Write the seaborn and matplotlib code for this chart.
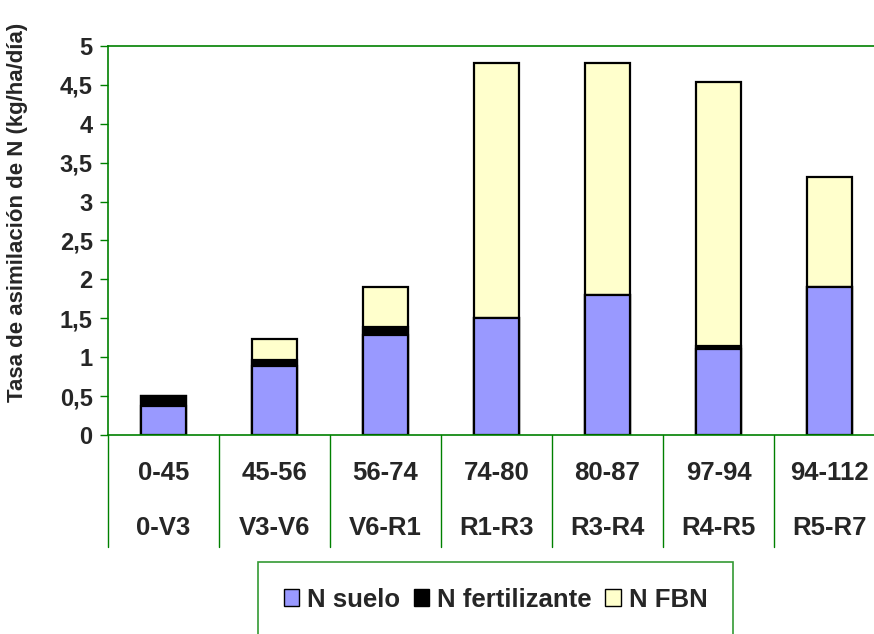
import numpy as np
import pandas as pd
import matplotlib.pyplot as plt
import seaborn as sns
from matplotlib.patches import Patch

# datos
dias = ['0-45', '45-56', '56-74', '74-80', '80-87', '97-94', '94-112']
etapas = ['0-V3', 'V3-V6', 'V6-R1', 'R1-R3', 'R3-R4', 'R4-R5', 'R5-R7']
n_suelo = [0.37, 0.89, 1.29, 1.50, 1.80, 1.11, 1.90]
n_fertilizante = [0.13, 0.07, 0.10, 0.00, 0.00, 0.04, 0.00]
n_fbn = [0.00, 0.27, 0.51, 3.28, 2.98, 3.39, 1.41]

c_suelo = '#9999FF'
c_fert = '#000000'
c_fbn = '#FFFFCC'
verde = '#008000'

df = pd.DataFrame({'periodo': dias, 'suelo': n_suelo,
                   'fert': n_fertilizante, 'fbn': n_fbn})
df['suelo_fert'] = df['suelo'] + df['fert']
df['total'] = df['suelo_fert'] + df['fbn']

sns.set_style('white')
plt.rcParams['font.family'] = ['Liberation Sans', 'DejaVu Sans']
plt.rcParams['font.weight'] = 'bold'

W, H = 874, 634
fig = plt.figure(figsize=(W / 100, H / 100), dpi=100)
ax = fig.add_axes([108 / W, 1 - 435 / H, 777 / W, 389 / H])

# barras apiladas: se dibuja el total y se tapa con los acumulados
kw = dict(width=0.41, edgecolor='black', linewidth=1.6, ax=ax)
sns.barplot(data=df, x='periodo', y='total', color=c_fbn, saturation=1, **kw)
sns.barplot(data=df, x='periodo', y='suelo_fert', color=c_fert, saturation=1, **kw)
sns.barplot(data=df, x='periodo', y='suelo', color=c_suelo, saturation=1, **kw)

ax.set_xlim(-0.5, len(dias) - 0.5)
ax.set_ylim(0, 5)
yt = np.arange(0, 5.01, 0.5)
ax.set_yticks(yt)
ax.set_yticklabels([('%g' % v).replace('.', ',') for v in yt],
                   fontsize=17, fontweight='bold')
ax.tick_params(axis='y', direction='out', length=6, width=1, color=verde,
               pad=5, left=True)
ax.set_xticks([])
ax.set_xlabel('')
for s in ax.spines.values():
    s.set_color(verde)
    s.set_linewidth(1.2)

ax.set_ylabel('Tasa de asimilación de N (kg/ha/día)', fontsize=16,
              fontweight='bold')
ax.yaxis.set_label_coords(-0.103, 0.573)

# etiquetas de dos filas bajo el eje y separadores
tr = ax.get_xaxis_transform()
for i, (d, e) in enumerate(zip(dias, etapas)):
    ax.text(i, -0.097, d, transform=tr, ha='center', va='center',
            fontsize=18.5, fontweight='bold')
    ax.text(i, -0.240, e, transform=tr, ha='center', va='center',
            fontsize=18.5, fontweight='bold')
for k in range(len(dias) + 1):
    ax.plot([k - 0.5, k - 0.5], [0, -0.288], transform=tr, color=verde,
            lw=1, clip_on=False)

handles = [Patch(facecolor=c_suelo, edgecolor='black', label='N suelo'),
           Patch(facecolor=c_fert, edgecolor='black', label='N fertilizante'),
           Patch(facecolor=c_fbn, edgecolor='black', label='N FBN')]
leg = fig.legend(handles=handles, loc='upper left', ncol=3, mode='expand',
                 bbox_to_anchor=(258 / W, 1 - 562 / H, 475 / W, 0.0),
                 prop={'size': 18.5, 'weight': 'bold'}, fancybox=False,
                 frameon=True, borderpad=1.0, handlelength=0.6,
                 handleheight=0.6, handletextpad=0.3, columnspacing=1.0,
                 borderaxespad=0)
leg.get_frame().set_edgecolor(verde)
leg.get_frame().set_linewidth(1.2)

fig.savefig('out.png', dpi=100)
